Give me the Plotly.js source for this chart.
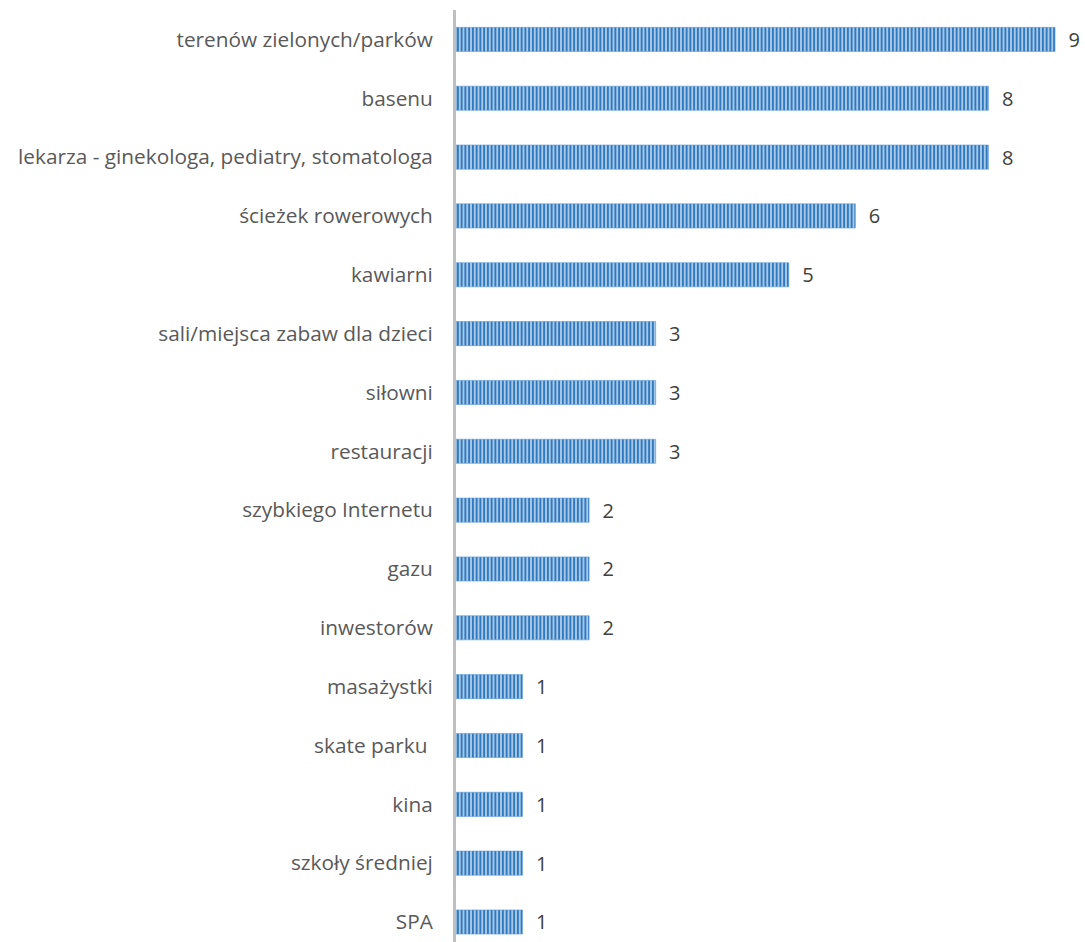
<!DOCTYPE html>
<html>
<head>
<meta charset="utf-8">
<script src="https://cdn.plot.ly/plotly-3.0.1.min.js"></script>
<style>html,body{margin:0;padding:0;background:#fff;}#chart{width:1085px;height:942px;}</style>
</head>
<body>
<div id="chart"></div>
<script>
const categories = [
  "terenów zielonych/parków",
  "basenu",
  "lekarza - ginekologa, pediatry, stomatologa",
  "ścieżek rowerowych",
  "kawiarni",
  "sali/miejsca zabaw dla dzieci",
  "siłowni",
  "restauracji",
  "szybkiego Internetu",
  "gazu",
  "inwestorów",
  "masażystki",
  "skate parku ",
  "kina",
  "szkoły średniej",
  "SPA"
];
const values = [9, 8, 8, 6, 5, 3, 3, 3, 2, 2, 2, 1, 1, 1, 1, 1];

const trace = {
  type: 'bar',
  orientation: 'h',
  y: categories,
  x: values,
  width: 0.41,
  texttemplate: '\u00a0\u00a0%{x}',
  textposition: 'outside',
  constraintext: 'none',
  cliponaxis: false,
  textfont: {family: 'Open Sans, sans-serif', size: 20, color: '#404040'},
  marker: {
    color: '#9DC3E6',
    line: {color: '#5B9BD5', width: 0.6},
    pattern: {shape: '|', fgcolor: '#3278BC', bgcolor: '#A6C9EA', size: 3.75, solidity: 0.5}
  },
  hoverinfo: 'none'
};

const layout = {
  width: 1085,
  height: 942,
  margin: {l: 456, r: 0, t: 10, b: 0},
  paper_bgcolor: '#ffffff',
  plot_bgcolor: '#ffffff',
  showlegend: false,
  bargap: 0.59,
  xaxis: {
    range: [0, 9.45],
    showgrid: false,
    zeroline: false,
    showticklabels: false,
    ticks: '',
    showline: false
  },
  yaxis: {
    type: 'category',
    categoryorder: 'array',
    categoryarray: categories,
    range: [15.34, -0.5],
    showgrid: false,
    zeroline: false,
    showline: true,
    linecolor: '#BFBFBF',
    linewidth: 3,
    ticks: '',
    ticklabelstandoff: 16,
    tickfont: {family: 'Open Sans, sans-serif', size: 20.8, color: '#595959'}
  }
};

Plotly.newPlot('chart', [trace], layout, {displayModeBar: false, staticPlot: true});
</script>
</body>
</html>
